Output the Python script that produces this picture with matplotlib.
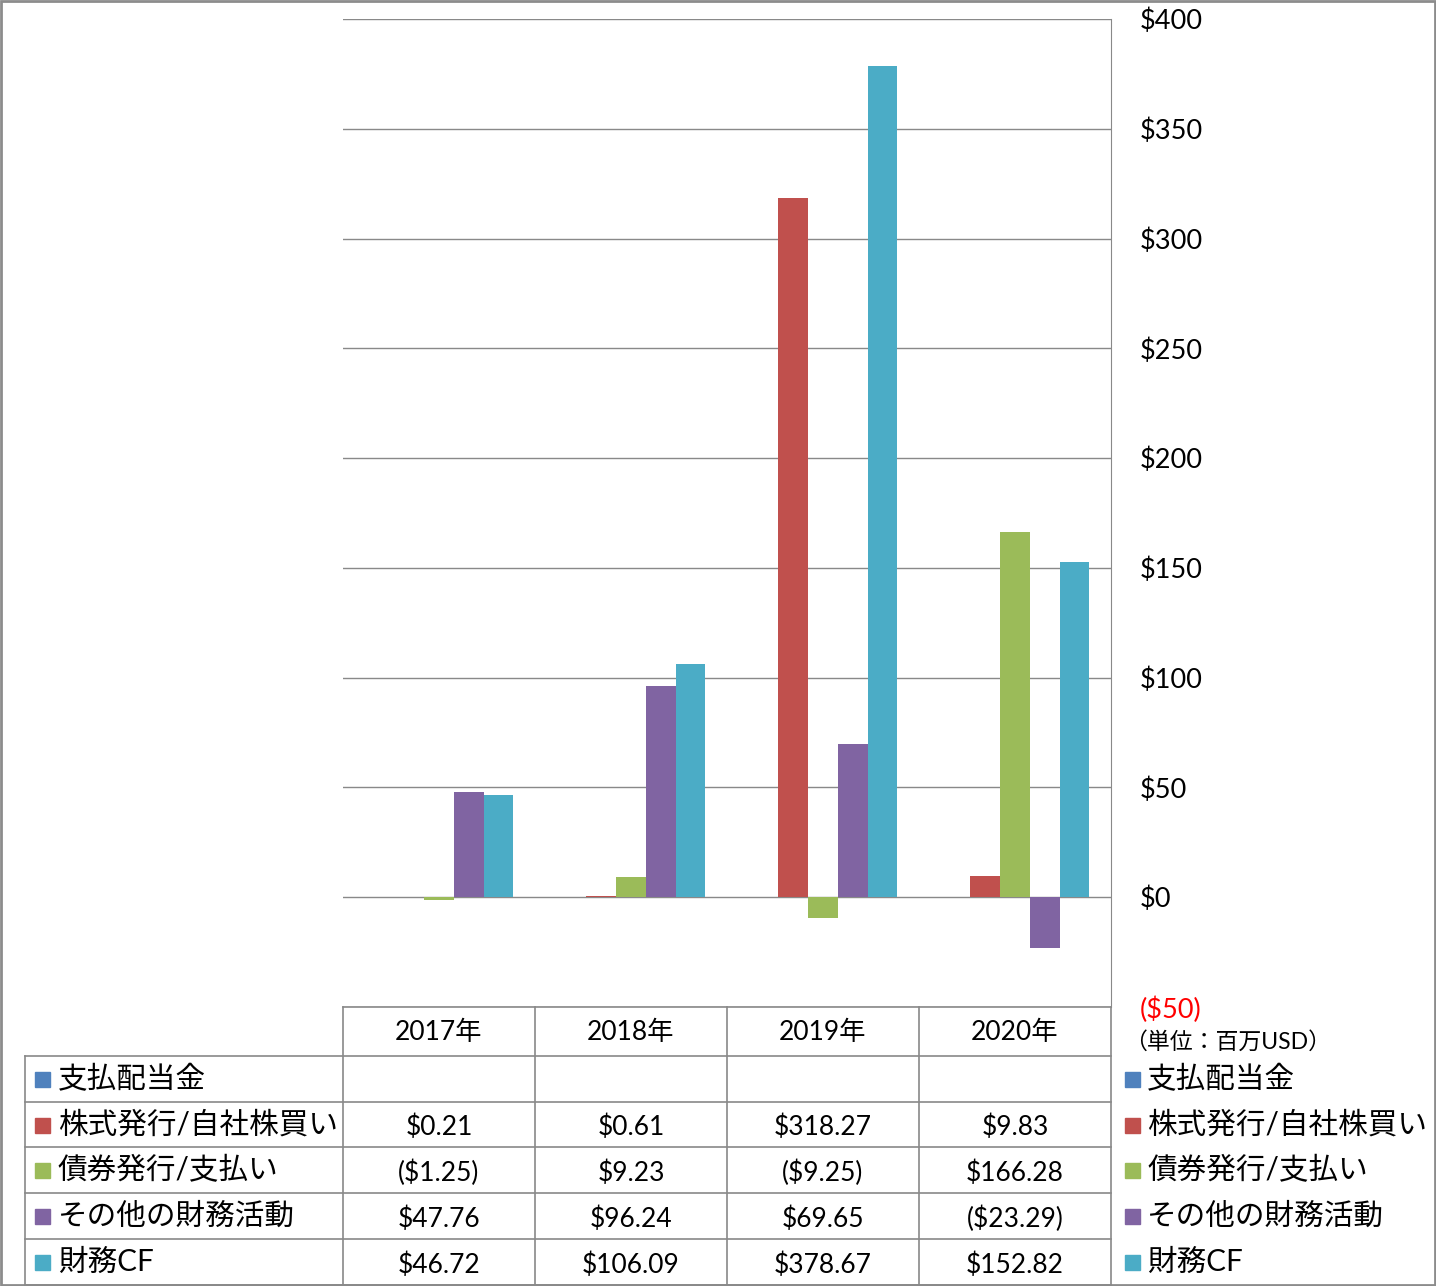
import numpy as np
import matplotlib.pyplot as plt
from matplotlib.patches import Rectangle
from matplotlib.lines import Line2D
from matplotlib.ticker import FuncFormatter, MultipleLocator

years = ["2017年", "2018年", "2019年", "2020年"]
series = ["支払配当金", "株式発行/自社株買い", "債券発行/支払い", "その他の財務活動", "財務CF"]
dividends = [None, None, None, None]
stock = [0.21, 0.61, 318.27, 9.83]
bonds = [-1.25, 9.23, -9.25, 166.28]
other = [47.76, 96.24, 69.65, -23.29]
fin_cf = [46.72, 106.09, 378.67, 152.82]
values = [dividends, stock, bonds, other, fin_cf]
colors = ["#4F81BD", "#C0504D", "#9BBB59", "#8064A2", "#4BACC6"]

FONT = ["Lato", "Noto Sans CJK JP"]
plt.rcParams['font.family'] = FONT
GRID = "#898989"
W, H = 1436, 1286

def fx(x):  # pixel -> figure fraction
    return x / W

def fy(y):
    return 1 - y / H

def money(v, dec=2):
    s = f"${abs(v):,.{dec}f}"
    return f"({s})" if v < 0 else s

fig = plt.figure(figsize=(W / 100, H / 100), dpi=100)
L, R, T, B = 343, 1111, 19, 1007
ax = fig.add_axes([fx(L), fy(B), fx(R) - fx(L), fy(T) - fy(B)])

x = np.arange(len(years))
bw = 0.155
for i, (name, vals, c) in enumerate(zip(series, values, colors)):
    v = [np.nan if a is None else a for a in vals]
    ax.bar(x + (i - 2) * bw, v, bw, color=c, zorder=3)

ax.set_xlim(-0.5, 3.5)
ax.set_ylim(-50, 400)
ax.yaxis.set_major_locator(MultipleLocator(50))
ax.yaxis.set_major_formatter(FuncFormatter(lambda v, p: money(v, 0)))
ax.yaxis.tick_right()
ax.tick_params(axis='y', length=0, pad=21, labelsize=19.5)
for lab in ax.get_yticklabels():
    lab.set_horizontalalignment('left')
ax.set_xticks([])
ax.grid(axis='y', color=GRID, lw=1, zorder=0)
for s in ["left", "top", "bottom"]:
    ax.spines[s].set_visible(False)
ax.spines["right"].set_color(GRID)
fig.canvas.draw()
for lab in ax.get_yticklabels():
    if lab.get_text().startswith("("):
        lab.set_color("red")

# data table
cols = [343, 535, 727, 919, 1111]
rows = [1056, 1102, 1147, 1193, 1239, 1285]
def hline(y, x0, x1):
    fig.add_artist(Line2D([fx(x0), fx(x1)], [fy(y), fy(y)], color=GRID, lw=1.2))
def vline(x0, y0, y1):
    fig.add_artist(Line2D([fx(x0), fx(x0)], [fy(y0), fy(y1)], color=GRID, lw=1.2))

hline(1007, 343, 1111)
for y in rows:
    hline(y, 25, 1111)
for c in cols:
    vline(c, 1007, 1285)
vline(25, 1056, 1285)

for j, yr in enumerate(years):
    cx = (cols[j] + cols[j + 1]) / 2
    fig.text(fx(cx), fy(1033), yr, ha='center', va='center', fontsize=19)

for i, (name, vals, c) in enumerate(zip(series, values, colors)):
    cy = (rows[i] + rows[i + 1]) / 2
    fig.add_artist(Rectangle((fx(35), fy(cy + 8)), fx(15), 15 / H, color=c))
    fig.text(fx(58), fy(cy), name, ha='left', va='center', fontsize=21.3)
    for j, v in enumerate(vals):
        if v is None:
            continue
        cx = (cols[j] + cols[j + 1]) / 2
        fig.text(fx(cx), fy(cy + 3), money(v), ha='center', va='center', fontsize=19)
    # legend on right
    fig.add_artist(Rectangle((fx(1125), fy(cy + 8)), fx(15), 15 / H, color=c))
    fig.text(fx(1147), fy(cy), name, ha='left', va='center', fontsize=21.3)

fig.text(fx(1124), fy(1042), "（単位：百万USD）", ha='left', va='center', fontsize=16.5)

# outer border
fig.add_artist(Rectangle((0.0008, 0.0008), 0.9984, 0.9984, fill=False, ec="#8c8c8c", lw=2))

fig.savefig("out.png", dpi=100)
